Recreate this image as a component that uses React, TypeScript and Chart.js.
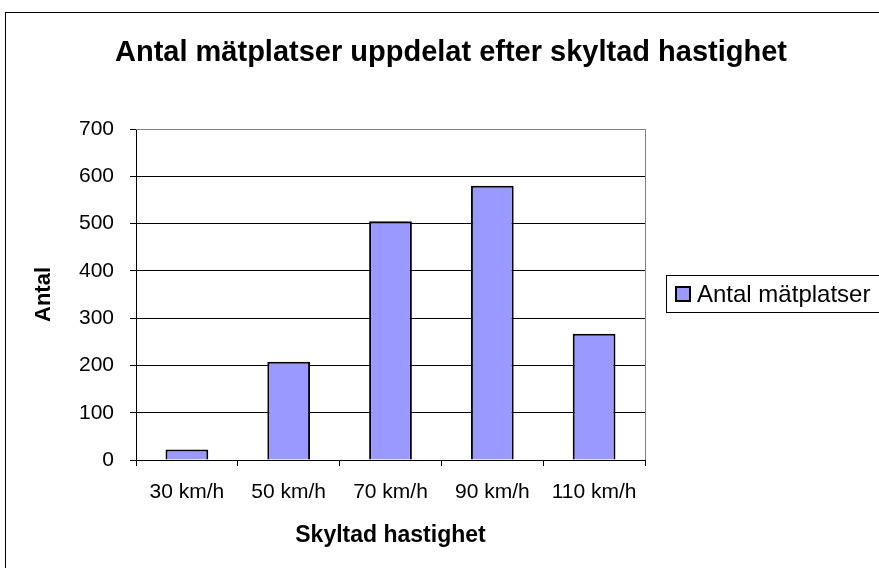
import React, { useEffect, useRef } from "react";
import { Chart, registerables } from "chart.js";

Chart.register(...registerables);

const categories = ["30 km/h", "50 km/h", "70 km/h", "90 km/h", "110 km/h"];
const seriesLabel = "Antal mätplatser";
const seriesValues = [22, 208, 505, 580, 267];
const chartTitle = "Antal mätplatser uppdelat efter skyltad hastighet";
const xTitle = "Skyltad hastighet";
const yTitle = "Antal";

const FONT = '"Liberation Sans", Arial, sans-serif';
const BAR_COLOR = "#9999FF";

export default function App() {
  const ref = useRef<HTMLCanvasElement | null>(null);

  useEffect(() => {
    document.body.style.margin = "0";
    const canvas = ref.current;
    if (!canvas) return;

    const decor = {
      id: "decor",
      beforeDatasetsDraw(chart: any) {
        const { ctx, chartArea } = chart;
        ctx.save();
        ctx.strokeStyle = "#808080";
        ctx.lineWidth = 1;
        ctx.beginPath();
        ctx.moveTo(chartArea.left, Math.round(chartArea.top) + 0.5);
        ctx.lineTo(Math.round(chartArea.right) + 0.5, Math.round(chartArea.top) + 0.5);
        ctx.lineTo(Math.round(chartArea.right) + 0.5, chartArea.bottom);
        ctx.stroke();
        ctx.restore();
      },
      afterDraw(chart: any) {
        const { ctx } = chart;
        ctx.save();
        // outer chart border
        ctx.strokeStyle = "#000";
        ctx.lineWidth = 1;
        ctx.strokeRect(5.5, 12.5, 1000, 1000);
        // title
        ctx.fillStyle = "#000";
        ctx.font = `bold 29px ${FONT}`;
        ctx.textAlign = "center";
        ctx.textBaseline = "middle";
        ctx.fillText(chartTitle, 451, 53);
        // legend
        ctx.strokeStyle = "#000";
        ctx.lineWidth = 1;
        ctx.strokeRect(666.5, 275.5, 400, 37);
        ctx.fillStyle = BAR_COLOR;
        ctx.fillRect(676, 287, 14, 14);
        ctx.lineWidth = 2;
        ctx.strokeRect(676, 287, 14, 14);
        ctx.fillStyle = "#000";
        ctx.font = `24px ${FONT}`;
        ctx.textAlign = "left";
        ctx.textBaseline = "middle";
        ctx.fillText(seriesLabel, 697, 295);
        ctx.restore();
      },
    };

    const chart = new Chart(canvas, {
      type: "bar",
      data: {
        labels: categories,
        datasets: [
          {
            label: seriesLabel,
            data: seriesValues,
            backgroundColor: BAR_COLOR,
            borderColor: "#000",
            borderWidth: 2,
            barPercentage: 0.42,
            categoryPercentage: 1,
          },
        ],
      },
      options: {
        responsive: false,
        animation: false,
        layout: { padding: { left: 0, top: 129, right: 234, bottom: 0 } },
        plugins: {
          legend: { display: false },
          title: { display: false },
          tooltip: { enabled: false },
        },
        scales: {
          x: {
            grid: {
              display: true,
              drawOnChartArea: false,
              drawTicks: true,
              tickLength: 6,
              color: "#000",
              offset: true,
            },
            border: { display: true, color: "#000", width: 1 },
            ticks: {
              color: "#000",
              font: { family: FONT, size: 21 },
              padding: 14,
              maxRotation: 0,
              autoSkip: false,
            },
            title: {
              display: true,
              text: xTitle,
              color: "#000",
              font: { family: FONT, size: 23, weight: "bold" },
              padding: { top: 0, bottom: 19 },
            },
            afterFit(scale: any) {
              scale.height = 108;
            },
          },
          y: {
            min: 0,
            max: 700,
            ticks: {
              stepSize: 100,
              color: "#000",
              font: { family: FONT, size: 21 },
              padding: 16,
            },
            grid: {
              color: "#000",
              tickLength: 6,
              drawTicks: true,
            },
            border: { display: true, color: "#000", width: 1 },
            title: {
              display: true,
              text: yTitle,
              color: "#000",
              font: { family: FONT, size: 22, weight: "bold" },
              padding: { top: 31, bottom: 0 },
            },
            afterFit(scale: any) {
              scale.width = 136;
            },
          },
        },
      },
      plugins: [decor],
    });

    return () => chart.destroy();
  }, []);

  return (
    <div style={{ width: 879, height: 568 }}>
      <canvas ref={ref} width={879} height={568} />
    </div>
  );
}
